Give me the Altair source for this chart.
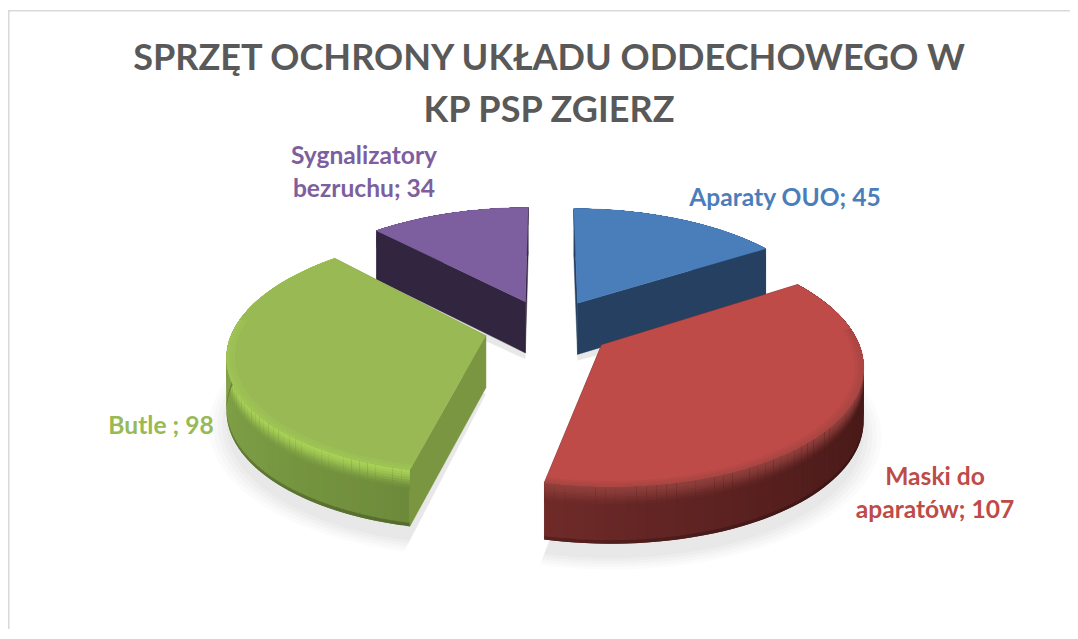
import math
import altair as alt

# ---- chart values ----
categories = ["Aparaty OUO", "Maski do aparatów", "Butle", "Sygnalizatory bezruchu"]
values = [45, 107, 98, 34]
label_lines = [["Aparaty OUO; 45"], ["Maski do", "aparatów; 107"], ["Butle ; 98"], ["Sygnalizatory", "bezruchu; 34"]]
title_lines = ["SPRZĘT OCHRONY UKŁADU ODDECHOWEGO W", "KP PSP ZGIERZ"]

# ---- styles ----
top_colors = ["#4a7ebb", "#be4b48", "#98b954", "#7d5fa0"]
wall_colors = ["#254061", "#4a1c1b", "#7a9640", "#32253f"]
rim_left = ["#254061", "#702b29", "#8fb04f", "#32253f"]     # colour at the slice's far (clockwise) end
rim_right = ["#254061", "#401615", "#6c8a3a", "#32253f"]    # colour at the slice's near end
rim_gamma = [1, 1.8, 0.8, 1]
bevel = ["#4a7ebb", "#8f3f3c", "#a9d257", "#7d5fa0"]
label_xy = [(785, 199), (935, 478), (161, 427), (364, 157)]  # page position of first label line
W, H = 1062, 621
CX, CY, T, K, XF = 548, 328, 0.47, 0.0006, 1.03
R, EXPLODE, DEPTH = 245, 62, 52


def proj(x, y, z=0.0):
    s = 1 / (1 - K * y)
    return [CX + XF * x * s - 8, CY + T * y * s + z * DEPTH * (0.5 + 0.5 * s) - 8]


def mix(a, b, f):
    ca = [int(a[i:i + 2], 16) for i in (1, 3, 5)]
    cb = [int(b[i:i + 2], 16) for i in (1, 3, 5)]
    return "#%02x%02x%02x" % tuple(round(p + (q - p) * f) for p, q in zip(ca, cb))


features = []


def add(ring, color, opacity=1.0, stroke=False):
    ring = ring + [ring[0]]
    features.append({"type": "Feature",
                     "geometry": {"type": "Polygon", "coordinates": [ring]},
                     "properties": {"fill": color, "op": opacity,
                                    "st": color if stroke else "transparent"}})


total = sum(values)
starts, a = [], 0.0
for v in values:
    starts.append(a)
    a += v / total * 2 * math.pi

# slice geometry derived from the values
geo = []
for i, v in enumerate(values):
    t0 = starts[i]
    t1 = t0 + v / total * 2 * math.pi
    m = (t0 + t1) / 2
    geo.append((EXPLODE * math.sin(m), -EXPLODE * math.cos(m), t0, t1))


def pt(i, th, r=R):
    ex, ey, _, _ = geo[i]
    return ex + r * math.sin(th), ey - r * math.cos(th)


def arc(i, n=70):
    _, _, t0, t1 = geo[i]
    return [t0 + (t1 - t0) * j / n for j in range(n + 1)]


# chart border: top and left edges only
add([[0, 2], [W, 2], [W, 3.5], [0, 3.5]], "#d9d9d9")
add([[0, 2], [1.5, 2], [1.5, H], [0, H]], "#d9d9d9")

# soft shadows
for grow, op in [(16, 0.022), (12, 0.025), (8, 0.03), (4, 0.035), (0, 0.04)]:
    for i in range(4):
        ring = [proj(*pt(i, geo[i][2], 0), 1.12)]
        ring += [proj(*pt(i, th, R + grow), 1.25) for th in arc(i, n=40)]
        add(ring, "#808080", op)


def walls(i):
    ex, ey, t0, t1 = geo[i]
    for th in (t0, t1):
        px, py = pt(i, th)
        add([proj(ex, ey), proj(px, py), proj(px, py, 1), proj(ex, ey, 1)], wall_colors[i], stroke=True)


def rim(i):
    _, _, t0, t1 = geo[i]
    ths = arc(i)
    n = len(ths)
    steps = 8
    for j in range(n - 1):
        f = ((ths[j] - t0) / (t1 - t0)) ** rim_gamma[i]
        body = mix(rim_right[i], rim_left[i], f)
        pa, pb = pt(i, ths[j]), pt(i, ths[min(j + 2, n - 1)])  # overlap the next strip so no seam shows
        add([proj(*pa, 0.92), proj(*pb, 0.92), proj(*pb, 1), proj(*pa, 1)], mix(body, "#000000", 0.22))
        add([proj(*pa, 0.3), proj(*pb, 0.3), proj(*pb, 0.94), proj(*pa, 0.94)], body)
        for k in range(steps, 0, -1):
            z1 = 0.36 * k / steps
            u = (k - 0.5) / steps
            c = mix(bevel[i], body, u * u * (3 - 2 * u))
            add([proj(*pa, 0), proj(*pb, 0), proj(*pb, z1), proj(*pa, z1)], c)


for i in [3, 0, 2, 1]:
    ex, ey, t0, t1 = geo[i]
    if i in (0, 3):
        rim(i)
        walls(i)
    else:
        walls(i)
        rim(i)
    ths = arc(i)
    add([proj(ex, ey)] + [proj(*pt(i, th)) for th in ths], top_colors[i], stroke=True)
    # soft bevel on the edge of the top face
    for r0, r1, g in [(R - 8, R, 0.2), (R - 5, R, 0.3), (R - 2.5, R, 0.4)]:
        front = [th for th in ths if math.cos(th) < 0.15]
        if len(front) > 2:
            outer = [proj(*pt(i, th, r1)) for th in front]
            inner = [proj(*pt(i, th, r0)) for th in reversed(front)]
            add(outer + inner, mix(top_colors[i], bevel[i], g))

shapes = alt.Chart(alt.Data(values=features)).mark_geoshape(strokeWidth=0.4).encode(
    fill=alt.Fill("properties.fill:N", scale=None),
    stroke=alt.Stroke("properties.st:N", scale=None),
    opacity=alt.Opacity("properties.op:Q", scale=None),
).project(type="identity", scale=1, translate=[0, 0])

rows = []
for i, lines in enumerate(label_lines):
    for n, line in enumerate(lines):
        rows.append({"t": line, "c": top_colors[i],
                     "lon": label_xy[i][0] - 8, "lat": label_xy[i][1] - 8 + n * 32.5})

labels = alt.Chart(alt.Data(values=rows)).mark_text(
    font="Lato", fontWeight="bold", fontSize=24.6, align="center", baseline="middle"
).encode(
    longitude="lon:Q", latitude="lat:Q", text="t:N",
    color=alt.Color("c:N", scale=None),
).project(type="identity", scale=1, translate=[0, 0])

chart = alt.layer(shapes, labels).properties(
    width=W, height=H,
    padding=0,
    autosize=alt.AutoSizeParams(type="none"),
    title=alt.TitleParams(
        text=title_lines, font="Lato", fontWeight="bold", fontSize=36.1, color="#595959",
        lineHeight=51.6, anchor="middle", frame="group", dy=121, dx=10, offset=0,
    ),
).configure_view(stroke=None)

chart.save("out.html", embed_options={"renderer": "svg", "actions": False})
